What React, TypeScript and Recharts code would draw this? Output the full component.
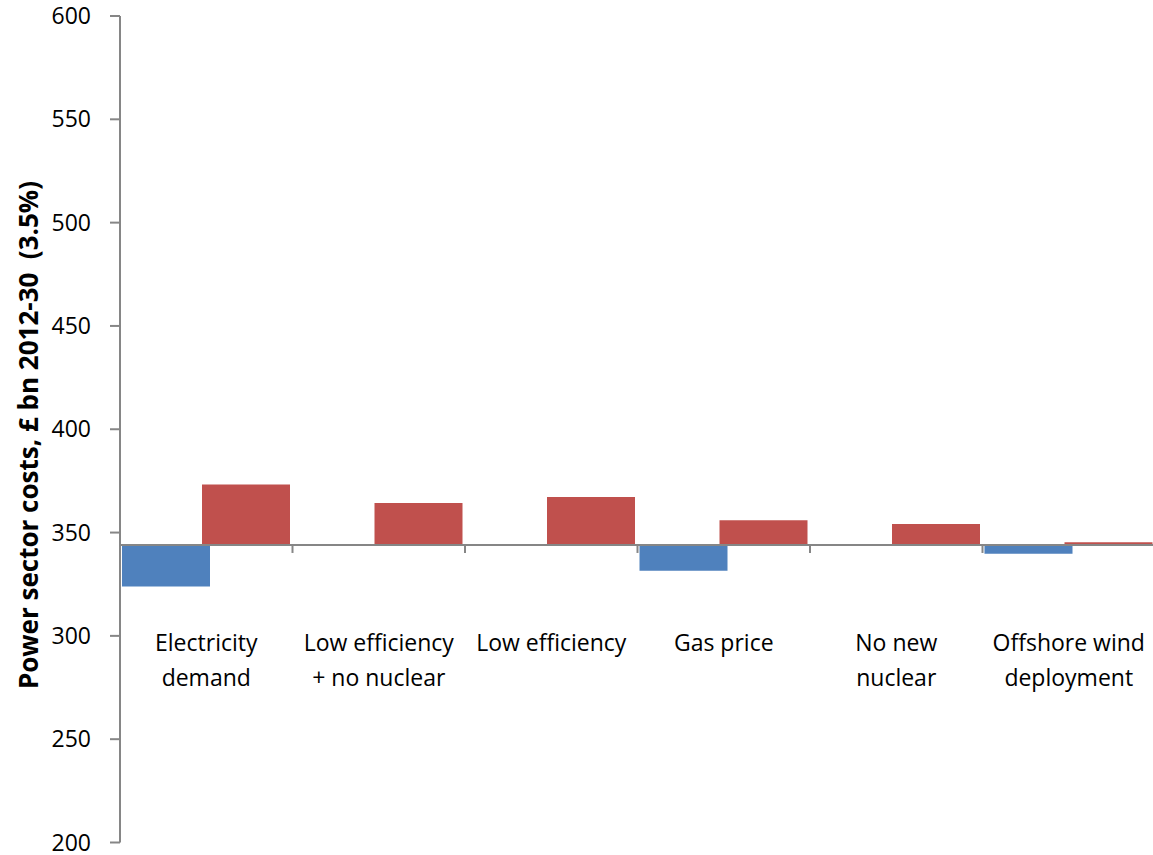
import React from 'react';
import { BarChart, Bar, XAxis, YAxis, ReferenceLine } from 'recharts';

// Sensitivities around the central case, £ bn 2012-30 at 3.5% discount rate
const scenarios = [
  'Electricity demand',
  'Low efficiency + no nuclear',
  'Low efficiency',
  'Gas price',
  'No new nuclear',
  'Offshore wind deployment',
];
const scenarioLines = [
  ['Electricity', 'demand'],
  ['Low efficiency', '+ no nuclear'],
  ['Low efficiency'],
  ['Gas price'],
  ['No new', 'nuclear'],
  ['Offshore wind', 'deployment'],
];
const centralCase = 344;
const lowCase = [323.9, null, null, 331.5, null, 339.7];
const highCase = [373.3, 364.3, 367.2, 355.9, 354.1, 345.3];
const yTicks = [200, 250, 300, 350, 400, 450, 500, 550, 600];

const data = scenarios.map((name, i) => ({
  name,
  low: lowCase[i] == null ? null : [lowCase[i], centralCase],
  high: [centralCase, highCase[i]],
}));

const WIDTH = 1153;
const HEIGHT = 855;
const MARGIN = { top: 16, right: -2, bottom: 0, left: 0 };
const Y_AXIS_WIDTH = 120;
const X_AXIS_HEIGHT = 12.5;
const PLOT_TOP = MARGIN.top;
const PLOT_HEIGHT = HEIGHT - MARGIN.top - MARGIN.bottom - X_AXIS_HEIGHT;
const BAND = (WIDTH - MARGIN.left - MARGIN.right - Y_AXIS_WIDTH) / scenarios.length;
const BASE_Y = PLOT_TOP + ((600 - centralCase) / 400) * PLOT_HEIGHT;

const FONT = "'Open Sans', sans-serif";
const AXIS_GREY = '#868686';
const LABEL_TOP = 651;
const LINE_GAP = 35;

const CategoryTick = (props: any) => {
  const { x, index } = props;
  const lines = scenarioLines[index] || [];
  return (
    <g>
      {index < scenarios.length - 1 && (
        <line x1={x + BAND / 2} x2={x + BAND / 2} y1={BASE_Y} y2={BASE_Y + 8} stroke={AXIS_GREY} strokeWidth={2} />
      )}
      {lines.map((line, i) => (
        <text key={i} x={x} y={LABEL_TOP + i * LINE_GAP} textAnchor="middle" fontFamily={FONT} fontSize={23} fill="#000">
          {line}
        </text>
      ))}
    </g>
  );
};

const AxisTitle = () => (
  <text
    x={28}
    y={435}
    transform="rotate(-90 28 435)"
    textAnchor="middle"
    dominantBaseline="central"
    fontFamily={FONT}
    fontWeight="bold"
    fontSize={26}
    fill="#000"
    style={{ whiteSpace: 'pre' }}
  >
    {'Power sector costs, £ bn 2012-30  (3.5%)'}
  </text>
);

export default function App() {
  return (
    <div style={{ position: 'absolute', left: 0, top: 0, background: '#fff' }}>
      <BarChart width={WIDTH} height={HEIGHT} data={data} margin={MARGIN} barGap={-8} barCategoryGap={2}>
        <XAxis
          dataKey="name"
          height={X_AXIS_HEIGHT}
          axisLine={false}
          tickLine={false}
          interval={0}
          tick={<CategoryTick />}
        />
        <YAxis
          width={Y_AXIS_WIDTH}
          domain={[200, 600]}
          ticks={yTicks}
          interval={0}
          allowDataOverflow
          axisLine={{ stroke: AXIS_GREY, strokeWidth: 2 }}
          tickLine={{ stroke: AXIS_GREY, strokeWidth: 2 }}
          tickSize={10}
          tickMargin={19}
          tick={{ fontFamily: FONT, fontSize: 23, fill: '#000' }}
          label={{ content: () => <AxisTitle /> }}
        />
        <Bar dataKey="low" fill="#4F81BD" isAnimationActive={false} />
        <Bar dataKey="high" fill="#C0504D" isAnimationActive={false} />
        <ReferenceLine y={centralCase} stroke={AXIS_GREY} strokeWidth={2} />
      </BarChart>
    </div>
  );
}
